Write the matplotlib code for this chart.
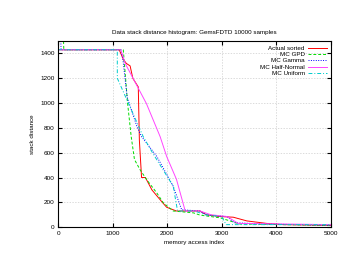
import matplotlib
matplotlib.use("Agg")
import matplotlib.pyplot as plt

# data (memory access index, stack distance)
actual_x = [0, 5, 1120, 1200, 1250, 1320, 1370, 1470, 1490, 1530, 1600, 1720, 1910, 1990, 2170, 2600, 2720, 2970, 3210, 3460, 3820, 4130, 5000]
actual_y = [1500, 1430, 1430, 1350, 1320, 1300, 1200, 1130, 700, 400, 400, 300, 200, 160, 130, 130, 100, 85, 80, 50, 30, 20, 15]

gpd_x = [100, 105, 1195, 1275, 1340, 1400, 1500, 1620, 1810, 1930, 2110, 2480, 2600, 2970, 3330, 5000]
gpd_y = [1500, 1430, 1430, 995, 730, 545, 465, 385, 275, 195, 130, 115, 97, 75, 25, 15]

gamma_x = [50, 55, 1150, 1190, 1265, 1450, 1530, 1810, 2110, 2265, 2600, 2720, 3100, 3230, 3800, 5000]
gamma_y = [1500, 1430, 1430, 1345, 1050, 805, 730, 570, 330, 140, 130, 97, 85, 35, 25, 15]

halfnorm_x = [0, 1150, 1230, 1620, 1870, 1990, 2170, 2330, 2600, 2800, 3100, 3300, 5000]
halfnorm_y = [1430, 1430, 1320, 995, 730, 570, 385, 130, 130, 100, 85, 30, 20]

uniform_x = [0, 1085, 1086, 1560, 1730, 2110, 2190, 2500, 2700, 3000, 3080, 5000]
uniform_y = [1430, 1430, 1200, 730, 600, 330, 130, 130, 100, 85, 20, 20]

plt.rcParams['font.family'] = ['Liberation Sans', 'DejaVu Sans']
fig = plt.figure(figsize=(3.52, 2.72), dpi=100)
ax = fig.add_axes([0.165, 0.165, 0.775, 0.684])

lw = 0.7
ax.plot(actual_x, actual_y, color='#ff0000', lw=lw, label='Actual sorted')
ax.plot(gpd_x, gpd_y, color='#00dd00', lw=lw, ls=(0, (3, 2)), label='MC GPD')
ax.plot(gamma_x, gamma_y, color='#0000ff', lw=lw, ls=(0, (1, 1.5)), label='MC Gamma')
ax.plot(halfnorm_x, halfnorm_y, color='#ff44ff', lw=lw, label='MC Half-Normal')
ax.plot(uniform_x, uniform_y, color='#00cccc', lw=lw, ls=(0, (4, 2, 1, 2)), label='MC Uniform')

ax.set_xlim(0, 5000)
ax.set_ylim(0, 1500)
ax.set_xticks(range(0, 5001, 1000))
ax.set_yticks(range(0, 1401, 200))
ax.tick_params(direction='in', labelsize=4.6, length=3, top=True, right=True, pad=2.5)
ax.grid(True, color='#cccccc', ls=(0, (2, 2)), lw=0.5)
for s in ax.spines.values():
    s.set_linewidth(0.8)

ax.set_title('Data stack distance histogram: GemsFDTD 10000 samples', fontsize=4.5, pad=5)
ax.set_xlabel('memory access index', fontsize=4.5, labelpad=3)
ax.set_ylabel('stack distance', fontsize=4.5, labelpad=4)

ax.legend(loc='upper right', fontsize=4.5, frameon=False, markerfirst=False,
          handlelength=3, labelspacing=0.15, borderaxespad=0.3, handletextpad=0.5)

fig.savefig('out.png', dpi=100)
